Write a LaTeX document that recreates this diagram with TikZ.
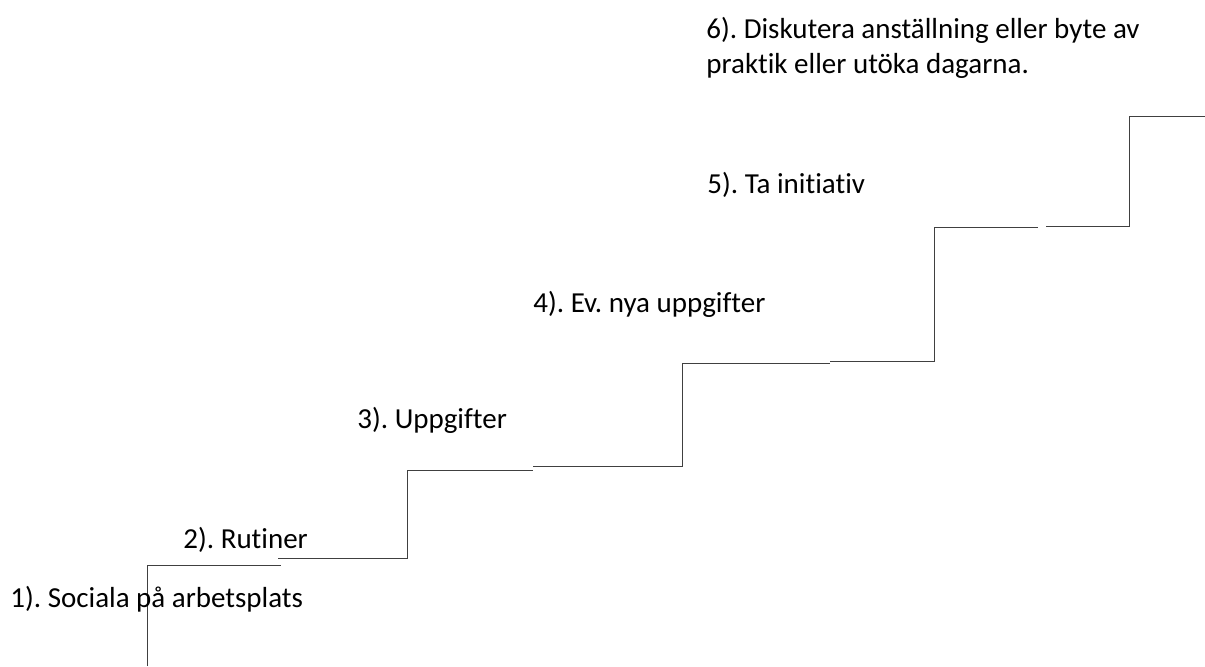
\documentclass[tikz,border=0pt]{standalone}
\usepackage{fontspec}
\setmainfont[Ligatures=NoCommon]{Carlito}
\usetikzlibrary{positioning}
\frenchspacing

\begin{document}
\begin{tikzpicture}[x = 0.5pt, y = -0.5pt,
                    stair/.style = {line width = 0.5pt, color = black!75},
                    step_label/.style = {anchor = base west, inner sep = 0pt, align = left,
                    font = \fontsize{14.5}{17.5}\selectfont}]
        \useasboundingbox (0,0) rectangle (1205,666);
        %corners of the stair
        \coordinate (s1_foot) at (147,666);
        \coordinate (s1_top) at (147,565);
        \coordinate (s1_end) at (281,565);
        \coordinate (s2_start) at (278,558);
        \coordinate (s2_corner) at (407,558);
        \coordinate (s2_top) at (407,470);
        \coordinate (s3_mid) at (533,470);
        \coordinate (s3_start) at (533,466);
        \coordinate (s3_corner) at (682,466);
        \coordinate (s3_top) at (682,363);
        \coordinate (s4_mid) at (830,363);
        \coordinate (s4_start) at (830,361);
        \coordinate (s4_corner) at (934,361);
        \coordinate (s4_top) at (934,227);
        \coordinate (s5_mid) at (1038,227);
        \coordinate (s5_start) at (1046,226);
        \coordinate (s5_corner) at (1129,226);
        \coordinate (s5_top) at (1129,116);
        \coordinate (s6_end) at (1205,116);
        %step 1
        \draw[stair] (s1_foot) -- (s1_top) -- (s1_end);
        %step 2
        \draw[stair] (s2_start) -- (s2_corner) -- (s2_top) -- (s3_mid);
        %step 3
        \draw[stair] (s3_start) -- (s3_corner) -- (s3_top) -- (s4_mid);
        %step 4
        \draw[stair] (s4_start) -- (s4_corner) -- (s4_top) -- (s5_mid);
        %step 5
        \draw[stair] (s5_start) -- (s5_corner) -- (s5_top) -- (s6_end);
        %labels
        \node[step_label] (social) at (10,607) {1). Sociala på arbetsplats};
        \node[step_label] (routines) at (183,548) {2). Rutiner};
        \node[step_label] (tasks) at (357,428) {3). Uppgifter};
        \node[step_label] (new_tasks) at (533,312) {4). Ev. nya uppgifter};
        \node[step_label] (initiative) at (707,193) {5). Ta initiativ};
        \node[step_label] (discuss) at (706,73) {6). Diskutera anställning eller byte av\\praktik eller utöka dagarna.};
    \end{tikzpicture}
\end{document}
